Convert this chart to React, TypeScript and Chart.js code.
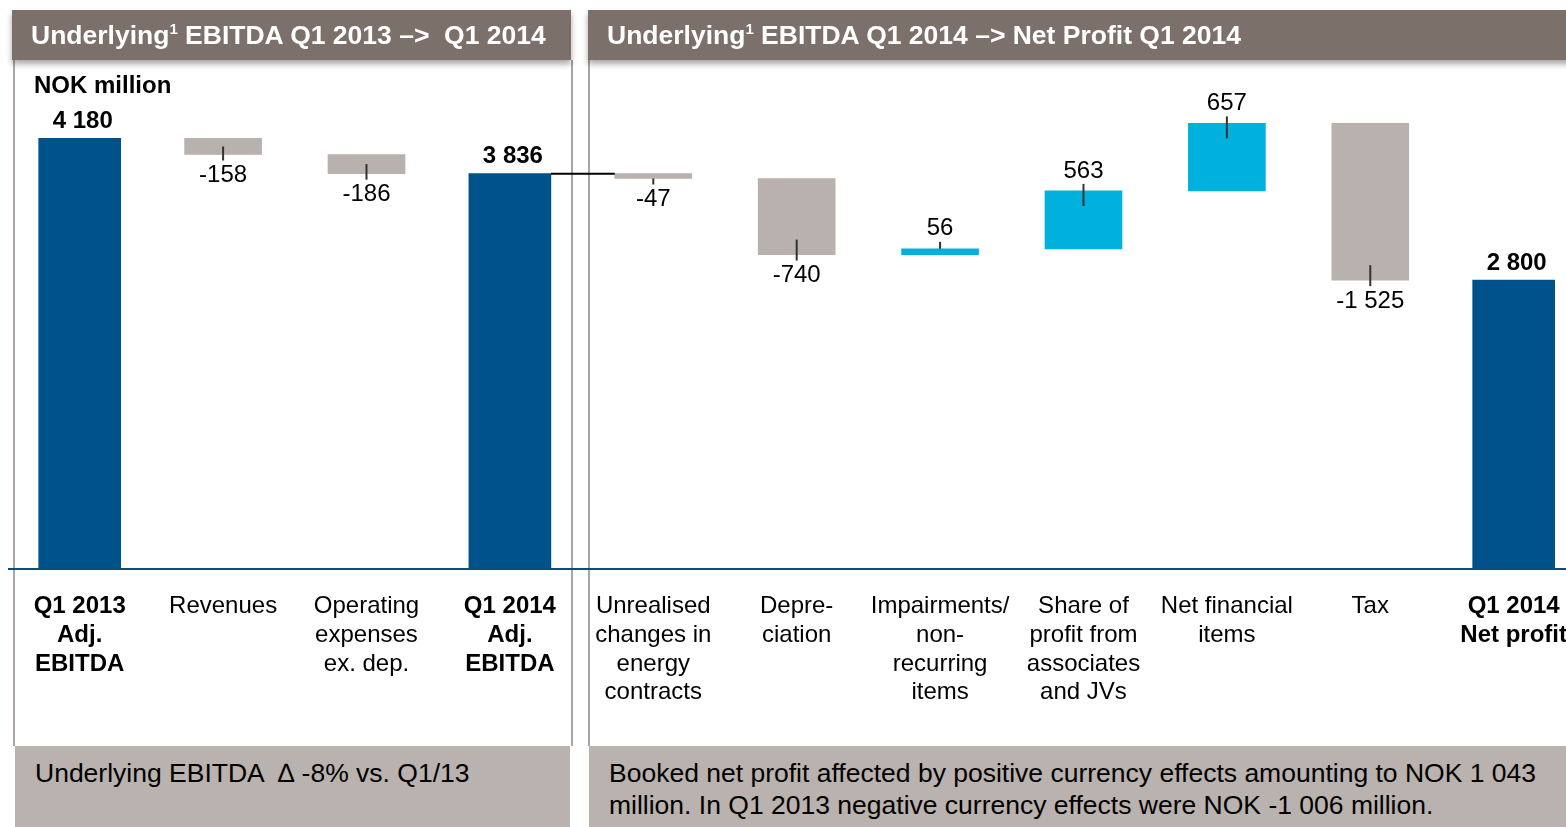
import React, { useEffect, useRef } from "react";
import { Chart, registerables } from "chart.js";

Chart.register(...registerables);

const categories: string[][] = [
  ["Q1 2013", "Adj.", "EBITDA"],
  ["Revenues"],
  ["Operating", "expenses", "ex. dep."],
  ["Q1 2014", "Adj.", "EBITDA"],
  ["Unrealised", "changes in", "energy", "contracts"],
  ["Depre-", "ciation"],
  ["Impairments/", "non-", "recurring", "items"],
  ["Share of", "profit from", "associates", "and JVs"],
  ["Net financial", "items"],
  ["Tax"],
  ["Q1 2014", "Net profit"],
];
const values: number[] = [4180, -158, -186, 3836, -47, -740, 56, 563, 657, -1525, 2800];
const isTotal: boolean[] = [true, false, false, true, false, false, false, false, false, false, true];
const valueLabels: string[] = ["4 180", "-158", "-186", "3 836", "-47", "-740", "56", "563", "657", "-1 525", "2 800"];

const FONT = '"Liberation Sans", Arial, Helvetica, sans-serif';
const DARK_BLUE = "#00538a";
const LIGHT_BLUE = "#00b1dd";
const GREY = "#b9b1ad";

function buildFloating() {
  const totals: ([number, number] | null)[] = [];
  const deltas: ([number, number] | null)[] = [];
  let running = 0;
  values.forEach((v, i) => {
    if (isTotal[i]) {
      totals.push([0, v]);
      deltas.push(null);
      running = v;
    } else {
      totals.push(null);
      deltas.push([running, running + v]);
      running += v;
    }
  });
  return { totals, deltas };
}

const labelPlugin = {
  id: "wfLabels",
  afterDatasetsDraw(chart: any) {
    const ctx = chart.ctx;
    const yScale = chart.scales.y;
    const area = chart.chartArea;
    const tMeta = chart.getDatasetMeta(0);
    const dMeta = chart.getDatasetMeta(1);
    ctx.save();
    const y0 = yScale.getPixelForValue(0);
    ctx.strokeStyle = "#0d4b78";
    ctx.lineWidth = 2;
    ctx.beginPath();
    ctx.moveTo(0, y0 + 1);
    ctx.lineTo(chart.width, y0 + 1);
    ctx.stroke();

    ctx.textAlign = "center";
    ctx.textBaseline = "middle";
    values.forEach((v, i) => {
      const el = isTotal[i] ? tMeta.data[i] : dMeta.data[i];
      if (!el) return;
      const top = Math.min(el.y, el.base);
      const bottom = Math.max(el.y, el.base);
      const h = bottom - top;
      const x = el.x;
      if (isTotal[i]) {
        ctx.font = `bold 24px ${FONT}`;
        ctx.fillStyle = "#000";
        ctx.fillText(valueLabels[i], x + 3, top - 17);
      } else {
        const inside = Math.min(15, h > 8 ? h / 2 : 0);
        ctx.strokeStyle = "#333";
        ctx.lineWidth = 2;
        ctx.beginPath();
        if (v < 0) {
          ctx.moveTo(x, bottom - inside);
          ctx.lineTo(x, bottom + 6);
        } else {
          ctx.moveTo(x, top - 7);
          ctx.lineTo(x, top + inside);
        }
        ctx.stroke();
        ctx.font = `24px ${FONT}`;
        ctx.fillStyle = "#000";
        ctx.fillText(valueLabels[i], x, v < 0 ? bottom + 21 : top - 20);
      }
    });

    const a = tMeta.data[3];
    const b = dMeta.data[4];
    if (a && b) {
      ctx.strokeStyle = "#000";
      ctx.lineWidth = 2;
      ctx.beginPath();
      ctx.moveTo(a.x + a.width / 2, a.y);
      ctx.lineTo(b.x - b.width / 2, a.y);
      ctx.stroke();
    }
    ctx.restore();
  },
};

function WaterfallChart() {
  const ref = useRef<HTMLCanvasElement | null>(null);
  useEffect(() => {
    if (!ref.current) return;
    const { totals, deltas } = buildFloating();
    const chart = new Chart(ref.current, {
      type: "bar",
      data: {
        labels: categories,
        datasets: [
          {
            data: totals as any,
            backgroundColor: DARK_BLUE,
            barThickness: 82,
            grouped: false,
            borderWidth: 0,
          } as any,
          {
            data: deltas as any,
            backgroundColor: values.map((v) => (v < 0 ? GREY : LIGHT_BLUE)),
            barThickness: 77,
            grouped: false,
            borderWidth: 0,
          } as any,
        ],
      },
      options: {
        responsive: false,
        animation: false,
        devicePixelRatio: 1,
        layout: { padding: { top: 54, left: 0, right: 0, bottom: 0 } },
        plugins: { legend: { display: false }, tooltip: { enabled: false } },
        scales: {
          x: {
            grid: { display: false, drawTicks: false },
            border: { display: false },
            afterFit: (scale: any) => {
              scale.height = 178;
            },
            ticks: {
              autoSkip: false,
              maxRotation: 0,
              minRotation: 0,
              padding: 24,
              color: "#000",
              font: (c: any) => ({
                family: FONT,
                size: 24,
                weight: isTotal[c.index] ? "bold" : "normal",
                lineHeight: 1.2,
              }),
            },
          },
          y: {
            display: false,
            min: 0,
            max: 5000,
          },
        },
      } as any,
      plugins: [labelPlugin],
    });
    return () => chart.destroy();
  }, []);
  return (
    <canvas
      ref={ref}
      width={1583}
      height={746}
      style={{ position: "absolute", left: 8, top: 0, width: 1583, height: 746, zIndex: 2 }}
    />
  );
}

export default function App() {
  const header: React.CSSProperties = {
    position: "absolute",
    top: 10,
    height: 50,
    background: "#7b706a",
    color: "#fff",
    fontFamily: FONT,
    fontWeight: "bold",
    fontSize: 26.5,
    lineHeight: "50px",
    boxShadow: "0 4px 6px rgba(0,0,0,0.35)",
    zIndex: 3,
    whiteSpace: "nowrap",
    overflow: "hidden",
  };
  const box: React.CSSProperties = {
    position: "absolute",
    top: 746,
    height: 81,
    background: "#b9b2ae",
    color: "#000",
    fontFamily: FONT,
    fontSize: 26.5,
    lineHeight: "32px",
    zIndex: 1,
    whiteSpace: "nowrap",
  };
  const sup: React.CSSProperties = { fontSize: 15, lineHeight: 0, verticalAlign: "10px" };
  return (
    <div style={{ position: "fixed", left: 0, top: 0, width: 1566, height: 827, overflow: "hidden", background: "#fff" }}>
      <div style={{ position: "absolute", left: 13, top: 60, width: 556, height: 686, borderLeft: "2px solid #aaa5a2", borderRight: "2px solid #aaa5a2", zIndex: 0 }} />
      <div style={{ position: "absolute", left: 588, top: 60, width: 1000, height: 686, borderLeft: "2px solid #aaa5a2", zIndex: 0 }} />
      <div style={{ ...header, left: 12, width: 559, paddingLeft: 19, boxSizing: "border-box" }}>
        Underlying<sup style={sup}>1</sup> EBITDA Q1 2013 –&gt;&nbsp; Q1 2014
      </div>
      <div style={{ ...header, left: 588, width: 990, paddingLeft: 19, boxSizing: "border-box" }}>
        Underlying<sup style={sup}>1</sup> EBITDA Q1 2014 –&gt; Net Profit Q1 2014
      </div>
      <div style={{ position: "absolute", left: 34, top: 71, fontFamily: FONT, fontWeight: "bold", fontSize: 24, color: "#000", zIndex: 3 }}>
        NOK million
      </div>
      <div style={{ ...box, left: 15, width: 555, paddingLeft: 20, paddingTop: 11, boxSizing: "border-box" }}>
        Underlying EBITDA &nbsp;∆ -8% vs. Q1/13
      </div>
      <div style={{ ...box, left: 589, width: 990, paddingLeft: 20, paddingTop: 11, boxSizing: "border-box" }}>
        Booked net profit affected by positive currency effects amounting to NOK 1 043
        <br />
        million. In Q1 2013 negative currency effects were NOK -1 006 million.
      </div>
      <WaterfallChart />
    </div>
  );
}
